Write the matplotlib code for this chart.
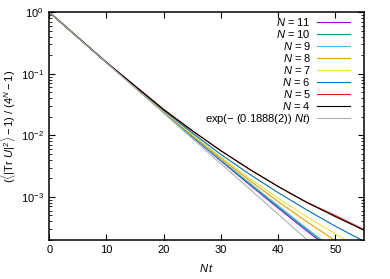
import numpy as np
import matplotlib
matplotlib.use("Agg")
from matplotlib import pyplot as plt

plt.rcParams["font.family"] = ["Liberation Sans", "DejaVu Sans"]
plt.rcParams["mathtext.fontset"] = "custom"
plt.rcParams["mathtext.rm"] = "Liberation Sans"
plt.rcParams["mathtext.it"] = "Liberation Sans:italic"
plt.rcParams["mathtext.bf"] = "Liberation Sans:bold"
plt.rcParams["axes.unicode_minus"] = True

# N t sample points
nt = [0, 10, 20, 25, 30, 35, 40, 45, 50, 55]

# log10 of ((<|Tr U|^2> - 1) / (4^N - 1))
log_n11 = [0, -0.819, -1.625, -2.022, -2.415, -2.80, -3.18, -3.55, -3.91, -4.27]
log_n10 = [0, -0.819, -1.623, -2.017, -2.405, -2.785, -3.16, -3.525, -3.88, -4.23]
log_n9 = [0, -0.819, -1.62, -2.01, -2.395, -2.77, -3.14, -3.51, -3.87, -4.22]
log_n8 = [0, -0.818, -1.61, -1.995, -2.37, -2.73, -3.075, -3.40, -3.71, -4.02]
log_n7 = [0, -0.818, -1.605, -1.985, -2.35, -2.695, -3.02, -3.32, -3.60, -3.87]
log_n6 = [0, -0.817, -1.595, -1.96, -2.31, -2.63, -2.93, -3.21, -3.475, -3.72]
log_n5 = [0, -0.815, -1.58, -1.925, -2.25, -2.55, -2.83, -3.085, -3.30, -3.53]
log_n4 = [0, -0.815, -1.58, -1.925, -2.25, -2.55, -2.83, -3.09, -3.32, -3.54]

# fit line exp(-0.1888 Nt), end points
nt_fit = [0, 55]
log_fit = [0, -4.51]

series = [
    ("$N$ = 11", log_n11, "#9400d3"),
    ("$N$ = 10", log_n10, "#009e73"),
    ("$N$ = 9", log_n9, "#56b4e9"),
    ("$N$ = 8", log_n8, "#e69f00"),
    ("$N$ = 7", log_n7, "#f0e442"),
    ("$N$ = 6", log_n6, "#0072b2"),
    ("$N$ = 5", log_n5, "#e51e10"),
    ("$N$ = 4", log_n4, "#000000"),
]

fig = plt.figure(figsize=(3.9, 2.79), dpi=100)
ax = fig.add_axes([0.1264, 0.140, 0.8066, 0.816])

for label, vals, col in series:
    ax.plot(nt, np.power(10.0, vals), color=col, lw=0.8, label=label)
ax.plot(nt_fit, np.power(10.0, log_fit), color="#b0b0b0", lw=0.8,
        label="exp(− (0.1888(2)) $Nt$)")

ax.set_yscale("log")
ax.set_xlim(0, 55)
ax.set_ylim(2e-4, 1)
ax.set_xticks([0, 10, 20, 30, 40, 50])

ax.tick_params(which="both", direction="in", top=True, right=True, labelsize=8, color="black")
ax.tick_params(which="major", length=4.5, width=0.8, pad=4)
ax.tick_params(which="minor", length=2.2, width=0.6)
for sp in ax.spines.values():
    sp.set_linewidth(1.1)

ax.set_xlabel("$N\\,t$", fontsize=8, labelpad=5)
ax.set_ylabel(r"$(\langle|\mathrm{Tr}\ U|^2\rangle - 1)\ /\ (4^N - 1)$", fontsize=8, labelpad=2)

ax.legend(loc="upper right", bbox_to_anchor=(0.9555, 0.985), frameon=False,
          markerfirst=False, fontsize=8, handlelength=3.0, handletextpad=0.5,
          labelspacing=0.0, borderpad=0, borderaxespad=0)

fig.savefig("out.png", dpi=100)
